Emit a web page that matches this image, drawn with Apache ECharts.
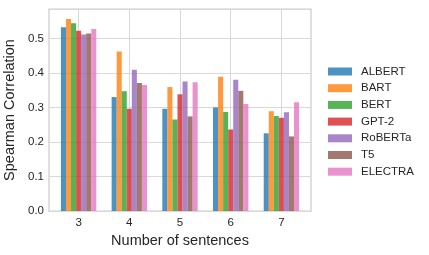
<!DOCTYPE html>
<html><head><meta charset="utf-8">
<script src="https://cdn.jsdelivr.net/npm/echarts@6/dist/echarts.min.js"></script>
<style>html,body{margin:0;padding:0;background:#fff}#c{width:429px;height:255px}</style>
</head><body><div id="c"></div>
<script>
const sentences = [3, 4, 5, 6, 7];
const models = ['ALBERT', 'BART', 'BERT', 'GPT-2', 'RoBERTa', 'T5', 'ELECTRA'];
const ALBERT  = [0.532, 0.330, 0.296, 0.300, 0.225];
const BART    = [0.556, 0.462, 0.359, 0.389, 0.289];
const BERT    = [0.544, 0.347, 0.265, 0.287, 0.275];
const GPT2    = [0.522, 0.296, 0.338, 0.236, 0.270];
const RoBERTa = [0.511, 0.409, 0.375, 0.380, 0.286];
const T5      = [0.514, 0.371, 0.274, 0.348, 0.216];
const ELECTRA = [0.527, 0.365, 0.373, 0.310, 0.315];
const values = [ALBERT, BART, BERT, GPT2, RoBERTa, T5, ELECTRA];
const yTicks = [0.0, 0.1, 0.2, 0.3, 0.4, 0.5];
const colors = ['#1f77b4', '#ff7f0e', '#2ca02c', '#d62728', '#9467bd', '#8c564b', '#e377c2'];

const font = 'Liberation Sans, Arial, sans-serif';
const textColor = '#262626';
const chart = echarts.init(document.getElementById('c'), null, {renderer: 'canvas'});
chart.setOption({
  animation: false,
  color: colors,
  textStyle: {fontFamily: font},
  grid: {left: 49, right: 118, top: 9, bottom: 44, outerBoundsMode: 'none', containLabel: false,
         show: true, borderColor: '#cccccc', borderWidth: 1.25, backgroundColor: '#fff'},
  legend: {
    orient: 'vertical', left: 328, top: 65, padding: 0,
    itemWidth: 24, itemHeight: 8, itemGap: 3.7,
    icon: 'rect',
    textStyle: {fontSize: 11.5, color: textColor, fontFamily: font, lineHeight: 13, padding: [0, 0, 0, 4]},
    data: models
  },
  xAxis: {
    type: 'value', min: 2.416, max: 7.584,
    name: 'Number of sentences', nameLocation: 'middle', nameGap: 22,
    nameTextStyle: {fontSize: 14.5, color: textColor, fontFamily: font},
    axisLine: {show: false},
    axisTick: {show: false, customValues: sentences},
    axisLabel: {customValues: sentences, fontSize: 11.5, color: textColor, margin: 6, fontFamily: font},
    splitLine: {show: true, lineStyle: {color: '#d9d9d9', width: 1}}
  },
  yAxis: {
    type: 'value', min: 0, max: 0.585,
    name: 'Spearman Correlation', nameLocation: 'middle', nameGap: 27,
    nameTextStyle: {fontSize: 14.5, color: textColor, fontFamily: font},
    axisLine: {show: false},
    axisTick: {show: false, customValues: yTicks},
    axisLabel: {customValues: yTicks, fontSize: 11.5, color: textColor, margin: 5, fontFamily: font,
      formatter: v => v.toFixed(1)},
    splitLine: {show: true, lineStyle: {color: '#d9d9d9', width: 1}}
  },
  series: models.map((m, i) => ({
    name: m, type: 'bar',
    barWidth: 5.05, barGap: '0%',
    itemStyle: {color: colors[i], opacity: 0.8},
    data: sentences.map((s, j) => [s, values[i][j]])
  }))
});
</script></body></html>
